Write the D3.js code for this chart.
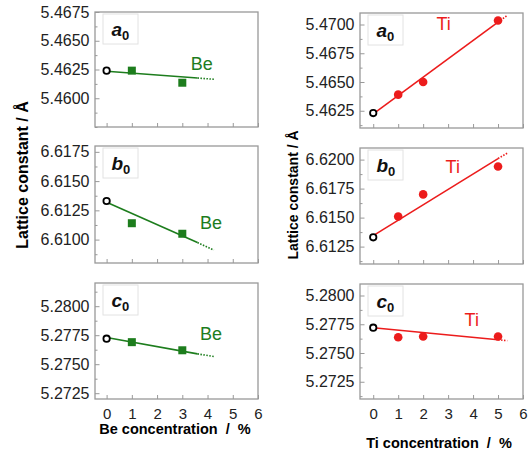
<!DOCTYPE html>
<html>
<head>
<meta charset="utf-8">
<script src="https://cdn.jsdelivr.net/npm/d3@7"></script>
<style>
  body { margin: 0; background: #fff; }
  text { font-family: "Liberation Sans", Arial, sans-serif; }
</style>
</head>
<body>
<div id="container"></div>
<script>
/* CONSTANTS AND GLOBALS */
const width = 531,
  height = 454;

/* DATA */
// Be doped samples (0 % = undoped reference)
const beConc = [0, 1, 3];
const beA = [5.4624, 5.4624, 5.46135];
const beB = [6.6133, 6.6114, 6.6105];
const beC = [5.2772, 5.2769, 5.2762];
// linear fit: solid up to 2nd x, dotted to 3rd x
const beFitX = [0, 3.6, 4.25];
const beFitA = [5.46235, 5.46176, 5.46165];
const beFitB = [6.6132, 6.60975, 6.6091];
const beFitC = [5.2773, 5.27589, 5.27566];

// Ti doped samples
const tiConc = [0, 1, 2, 5];
const tiA = [5.4623, 5.4639, 5.4650, 5.47035];
const tiB = [6.6133, 6.6151, 6.6170, 6.6194];
const tiC = [5.2772, 5.27637, 5.27644, 5.27644];
const tiFitX = [0, 5, 5.37];
const tiFitA = [5.46222, 5.4702, 5.47079];
const tiFitB = [6.61345, 6.62009, 6.62055];
const tiFitC = [5.2772, 5.27615, 5.27607];

const xTicks = [0, 1, 2, 3, 4, 5, 6];
const yTicksBeA = [5.4600, 5.4625, 5.4650, 5.4675];
const yTicksBeB = [6.6100, 6.6125, 6.6150, 6.6175];
const yTicksBeC = [5.2725, 5.2750, 5.2775, 5.2800];
const yTicksTiA = [5.4625, 5.4650, 5.4675, 5.4700];
const yTicksTiB = [6.6125, 6.6150, 6.6175, 6.6200];
const yTicksTiC = [5.2725, 5.2750, 5.2775, 5.2800];

const green = "#1d7d1d",
  red = "#ec1c1c";

const panels = [
  { label: "a", conc: beConc, vals: beA, fitX: beFitX, fit: beFitA, ticks: yTicksBeA, ydom: [5.4575, 5.4675],
    x0: 95, x1: 258, xdom: [-0.46, 6], y0: 12, y1: 127, color: green, shape: "square", name: "Be", nameAt: [3.33, 5.4625], xLabels: false },
  { label: "b", conc: beConc, vals: beB, fitX: beFitX, fit: beFitB, ticks: yTicksBeB, ydom: [6.6080, 6.6180],
    x0: 95, x1: 258, xdom: [-0.46, 6], y0: 146, y1: 263, color: green, shape: "square", name: "Be", nameAt: [3.7, 6.6109], xLabels: false },
  { label: "c", conc: beConc, vals: beC, fitX: beFitX, fit: beFitC, ticks: yTicksBeC, ydom: [5.2720, 5.2820],
    x0: 95, x1: 258, xdom: [-0.46, 6], y0: 283, y1: 399, color: green, shape: "square", name: "Be", nameAt: [3.7, 5.27707], xLabels: true },
  { label: "a", conc: tiConc, vals: tiA, fitX: tiFitX, fit: tiFitA, ticks: yTicksTiA, ydom: [5.4610, 5.4710],
    x0: 360, x1: 523, xdom: [-0.53, 6], y0: 13, y1: 128, color: red, shape: "circle", name: "Ti", nameAt: [2.53, 5.46951], xLabels: false },
  { label: "b", conc: tiConc, vals: tiB, fitX: tiFitX, fit: tiFitB, ticks: yTicksTiB, ydom: [6.6110, 6.6210],
    x0: 360, x1: 523, xdom: [-0.53, 6], y0: 148, y1: 264, color: red, shape: "circle", name: "Ti", nameAt: [2.9, 6.61886], xLabels: false },
  { label: "c", conc: tiConc, vals: tiC, fitX: tiFitX, fit: tiFitC, ticks: yTicksTiC, ydom: [5.2710, 5.2810],
    x0: 360, x1: 523, xdom: [-0.53, 6], y0: 284, y1: 399, color: red, shape: "circle", name: "Ti", nameAt: [3.66, 5.27735], xLabels: true }
];

const svg = d3.select("#container")
  .append("svg")
  .attr("width", width)
  .attr("height", height)
  .style("background-color", "#fff");

panels.forEach(p => {
  const xScale = d3.scaleLinear().domain(p.xdom).range([p.x0, p.x1]);
  const yScale = d3.scaleLinear().domain(p.ydom).range([p.y1, p.y0]);

  const g = svg.append("g");

  // minor ticks every 0.00125
  const minors = [];
  for (let k = Math.ceil(p.ydom[0] / 0.00125); k * 0.00125 <= p.ydom[1] + 1e-9; k++) {
    const v = +(k * 0.00125).toFixed(6);
    if (!p.ticks.some(t => Math.abs(t - v) < 1e-7)) minors.push(v);
  }
  g.append("g")
    .attr("transform", `translate(${p.x0},0)`)
    .call(d3.axisLeft(yScale).tickValues(minors).tickSize(-2.5).tickFormat(""))
    .call(a => a.select(".domain").remove())
    .call(a => a.selectAll("line").attr("stroke", "#999"));

  // major y ticks + labels
  g.append("g")
    .attr("transform", `translate(${p.x0},0)`)
    .call(d3.axisLeft(yScale).tickValues(p.ticks).tickSize(-4.5).tickPadding(5.5).tickFormat(d3.format(".4f")))
    .call(a => a.select(".domain").remove())
    .call(a => a.selectAll("line").attr("stroke", "#999"))
    .call(a => a.selectAll("text").attr("font-size", 16).attr("fill", "#222")
      .style("font-family", '"Liberation Sans", Arial, sans-serif'));

  // x ticks
  g.append("g")
    .attr("transform", `translate(0,${p.y1})`)
    .call(d3.axisBottom(xScale).tickValues(xTicks).tickSize(-4).tickPadding(9)
      .tickFormat(p.xLabels ? d3.format("d") : ""))
    .call(a => a.select(".domain").remove())
    .call(a => a.selectAll("line").attr("stroke", "#999"))
    .call(a => a.selectAll("text").attr("font-size", 15).attr("fill", "#222")
      .style("font-family", '"Liberation Sans", Arial, sans-serif'));

  // frame
  g.append("rect")
    .attr("x", p.x0).attr("y", p.y0)
    .attr("width", p.x1 - p.x0).attr("height", p.y1 - p.y0)
    .attr("fill", "none").attr("stroke", "#999").attr("stroke-width", 1.3);

  // label box
  g.append("rect")
    .attr("x", p.x0 + 8).attr("y", p.y0 + 2)
    .attr("width", 35).attr("height", 30)
    .attr("fill", "#fff").attr("stroke", "#e2e2e2").attr("stroke-width", 1);
  const lab = g.append("text")
    .attr("x", p.x0 + 16.5).attr("y", p.y0 + 24)
    .attr("fill", "#111");
  lab.append("tspan").attr("font-size", 19).attr("font-weight", "bold").attr("font-style", "italic").text(p.label);
  lab.append("tspan").attr("font-size", 13).attr("font-weight", "bold").attr("dy", 4).text("0");

  // fit line (solid part, then dotted extrapolation)
  const line = d3.line().x(d => xScale(d[0])).y(d => yScale(d[1]));
  const fitPts = p.fitX.map((x, i) => [x, p.fit[i]]);
  g.append("path")
    .attr("d", line(fitPts.slice(0, 2)))
    .attr("fill", "none").attr("stroke", p.color).attr("stroke-width", 1.6);
  g.append("path")
    .attr("d", line(fitPts.slice(1, 3)))
    .attr("fill", "none").attr("stroke", p.color).attr("stroke-width", 1.6)
    .attr("stroke-dasharray", "1.5,1.5");

  // points: undoped is open black circle
  const pts = p.conc.map((x, i) => ({ x: x, y: p.vals[i] }));
  const doped = pts.filter(d => d.x > 0);
  if (p.shape === "square") {
    g.selectAll(".sq")
      .data(doped)
      .join("rect")
      .attr("x", d => xScale(d.x) - 4)
      .attr("y", d => yScale(d.y) - 4)
      .attr("width", 8).attr("height", 8)
      .attr("fill", p.color);
  } else {
    g.selectAll(".dot")
      .data(doped)
      .join("circle")
      .attr("cx", d => xScale(d.x))
      .attr("cy", d => yScale(d.y))
      .attr("r", 4.3)
      .attr("fill", p.color);
  }
  g.selectAll(".ref")
    .data(pts.filter(d => d.x === 0))
    .join("circle")
    .attr("cx", d => xScale(d.x))
    .attr("cy", d => yScale(d.y))
    .attr("r", 3.2)
    .attr("fill", "#fff").attr("stroke", "#000").attr("stroke-width", 1.8);

  // dopant name
  g.append("text")
    .attr("x", xScale(p.nameAt[0])).attr("y", yScale(p.nameAt[1]))
    .attr("font-size", 18).attr("fill", p.color)
    .text(p.name);
});

// axis titles
svg.append("text")
  .attr("transform", "translate(28,175) rotate(-90)")
  .attr("text-anchor", "middle")
  .attr("font-size", 16).attr("font-weight", "bold")
  .text("Lattice constant / Å");

svg.append("text")
  .attr("transform", "translate(298,195) rotate(-90)")
  .attr("text-anchor", "middle")
  .attr("font-size", 14).attr("font-weight", "bold")
  .text("Lattice constant / Å");

svg.append("text")
  .attr("x", 175).attr("y", 434)
  .attr("text-anchor", "middle")
  .attr("font-size", 14.5).attr("font-weight", "bold")
  .style("white-space", "pre")
  .text("Be concentration  /  %");

svg.append("text")
  .attr("x", 439).attr("y", 448)
  .attr("text-anchor", "middle")
  .attr("font-size", 14.5).attr("font-weight", "bold")
  .style("white-space", "pre")
  .text("Ti concentration  /  %");
</script>
</body>
</html>
